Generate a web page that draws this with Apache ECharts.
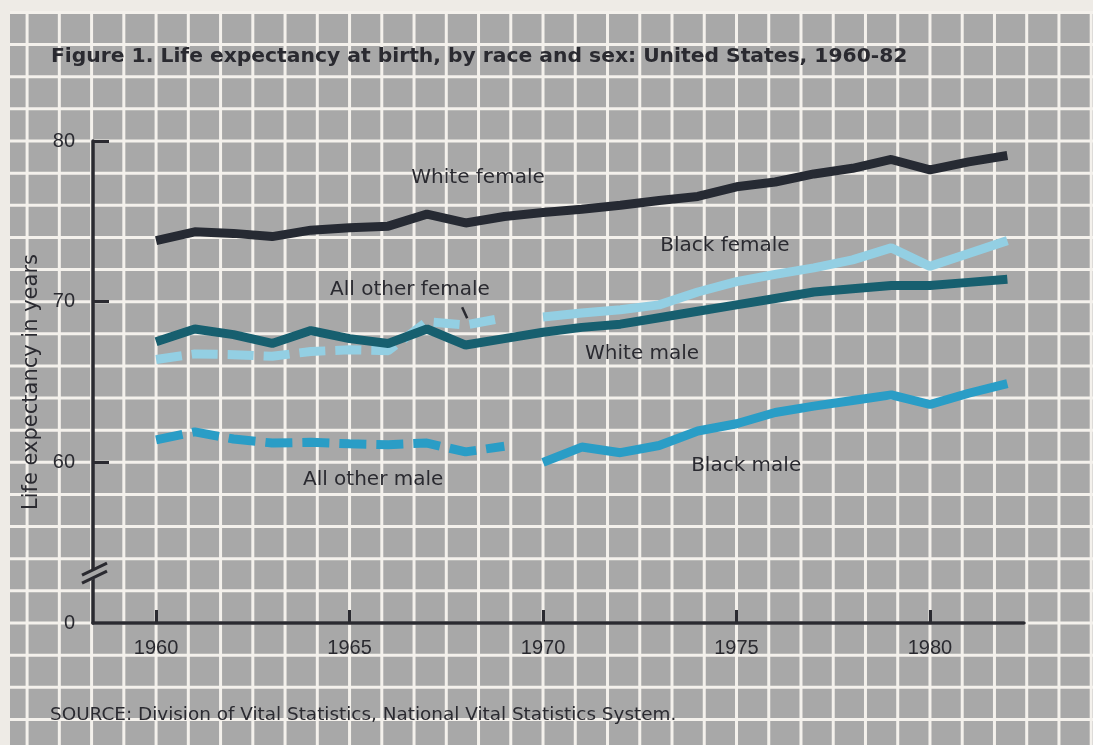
<!DOCTYPE html>
<html>
<head>
<meta charset="utf-8">
<title>Life expectancy at birth, by race and sex</title>
<script src="https://cdn.jsdelivr.net/npm/echarts@6/dist/echarts.min.js"></script>
<style>
  html, body { margin: 0; padding: 0; background: #eeebe6; }
  #main { width: 1093px; height: 745px; }
</style>
</head>
<body>
<div id="main"></div>
<script>
// years
const yearsEarly = [1960, 1961, 1962, 1963, 1964, 1965, 1966, 1967, 1968, 1969];
const yearsLate = [1970, 1971, 1972, 1973, 1974, 1975, 1976, 1977, 1978, 1979, 1980, 1981, 1982];
const yearsAll = yearsEarly.concat(yearsLate);

// life expectancy in years
const whiteFemale = [73.8, 74.35, 74.25, 74.05, 74.45, 74.6, 74.7, 75.45, 74.9, 75.3,
  75.55, 75.75, 76.0, 76.3, 76.55, 77.15, 77.45, 77.95, 78.3, 78.85, 78.2, 78.7, 79.1];
const whiteMale = [67.5, 68.3, 67.95, 67.4, 68.2, 67.7, 67.4, 68.3, 67.3, 67.7,
  68.1, 68.4, 68.6, 69.0, 69.4, 69.8, 70.2, 70.6, 70.8, 71.0, 71.0, 71.2, 71.4];
const allOtherFemale = [66.4, 66.75, 66.7, 66.6, 66.9, 67.0, 66.95, 68.75, 68.55, 69.0];
const blackFemale = [69.05, 69.3, 69.5, 69.8, 70.6, 71.25, 71.7, 72.1, 72.6, 73.35, 72.2, 73.0, 73.8];
const allOtherMale = [61.4, 61.9, 61.45, 61.2, 61.25, 61.15, 61.1, 61.2, 60.65, 61.0];
const blackMale = [60.0, 60.95, 60.6, 61.05, 61.95, 62.4, 63.1, 63.5, 63.85, 64.2, 63.6, 64.3, 64.9];

// axis ticks and labels
const xTickYears = [1960, 1965, 1970, 1975, 1980];
const yTicks = [60, 70, 80];
const yLabels = [50, 60, 70, 80];

// line labels placed in data space (year, years of life)
const labelAnchors = [
  { text: 'White female', at: [1968.32, 77.74] },
  { text: 'Black female', at: [1974.7, 73.45] },
  { text: 'All other female', at: [1966.56, 70.72] },
  { text: 'White male', at: [1972.56, 66.74] },
  { text: 'All other male', at: [1965.61, 58.9] },
  { text: 'Black male', at: [1975.25, 59.77] }
];

const FONT = '"Liberation Sans", Arial, Helvetica, sans-serif';
const WIDE = '"DejaVu Sans", "Liberation Sans", Arial, sans-serif';
const INK = '#2a2a30';
const PAPER = '#eeebe6';
const SCREEN = '#a8a8a8';
const GRIDLINE = '#f4f1ec';
const X_MIN = 1958.37, X_MAX = 1982.43;
const BREAK_AT = 53.1;

function pairs(xs, ys) {
  return xs.map((x, i) => [x, ys[i]]);
}

function lineSeries(name, data, color, dash) {
  return {
    name: name,
    type: 'line',
    data: data,
    symbol: 'none',
    z: 4,
    lineStyle: { color: color, width: 9, type: dash || 'solid', cap: 'butt' }
  };
}

const chart = echarts.init(document.getElementById('main'));

chart.setOption({
  backgroundColor: PAPER,
  animation: false,
  title: [
    {
      text: 'Figure 1. Life expectancy at birth, by race and sex: United States, 1960-82',
      left: 46, top: 42,
      textStyle: { fontFamily: WIDE, fontSize: 20.3, fontWeight: 'bold', color: INK }
    },
    {
      text: 'SOURCE: Division of Vital Statistics, National Vital Statistics System.',
      left: 45, top: 701,
      textStyle: { fontFamily: WIDE, fontSize: 18.4, fontWeight: 'normal', color: INK }
    }
  ],
  grid: { left: 93, right: 69, top: 141, bottom: 122, outerBoundsMode: 'none' },
  xAxis: {
    type: 'value', min: X_MIN, max: X_MAX, z: 3,
    axisLine: { onZero: false, lineStyle: { color: INK, width: 3.5 } },
    axisTick: { inside: true, length: 13, customValues: xTickYears, lineStyle: { color: INK, width: 3 } },
    axisLabel: {
      customValues: xTickYears, color: INK, fontFamily: FONT, fontSize: 20, margin: 15,
      formatter: v => String(v)
    },
    splitLine: { show: false }
  },
  yAxis: {
    type: 'value', min: 50, max: 80, z: 3,
    name: 'Life expectancy in years',
    nameLocation: 'middle', nameGap: 50, nameRotate: 90,
    nameTextStyle: { color: INK, fontFamily: WIDE, fontSize: 21 },
    axisLine: { show: true, onZero: false, lineStyle: { color: INK, width: 3.5 } },
    axisTick: { inside: true, length: 16, customValues: yTicks, lineStyle: { color: INK, width: 3 } },
    axisLabel: {
      customValues: yLabels, color: INK, fontFamily: FONT, fontSize: 20, margin: 18,
      formatter: v => (v === 50 ? '0' : String(v))
    },
    splitLine: { show: false }
  },
  series: [
    lineSeries('All other female', pairs(yearsEarly, allOtherFemale), '#93cfe3', [26, 10]),
    lineSeries('Black female', pairs(yearsLate, blackFemale), '#93cfe3'),
    lineSeries('All other male', pairs(yearsEarly, allOtherMale), '#2a9dc6', [27, 10]),
    lineSeries('Black male', pairs(yearsLate, blackMale), '#2a9dc6'),
    lineSeries('White male', pairs(yearsAll, whiteMale), '#175f6f'),
    lineSeries('White female', pairs(yearsAll, whiteFemale), '#262a33')
  ]
});

// background screen: white rules every 5/6 year and every 2 years, aligned to the axes
const W = chart.getWidth(), H = chart.getHeight();
const toPx = p => chart.convertToPixel({ gridIndex: 0 }, p);
const o = toPx([1960, 80]);
const q = toPx([1965, 70]);
const cw = (q[0] - o[0]) / 6;
const ch = (q[1] - o[1]) / 5;

const graphics = [];
graphics.push({
  type: 'rect', z: 0, z2: 0, silent: true,
  shape: { x: 10, y: 12, width: W, height: H },
  style: { fill: SCREEN }
});
for (let x = o[0] - Math.floor(o[0] / cw) * cw; x < W; x += cw) {
  graphics.push({
    type: 'line', z: 0, z2: 1, silent: true,
    shape: { x1: x, y1: 12, x2: x, y2: H },
    style: { stroke: GRIDLINE, lineWidth: 3 }
  });
}
for (let y = o[1] - Math.floor(o[1] / ch) * ch; y < H; y += ch) {
  graphics.push({
    type: 'line', z: 0, z2: 1, silent: true,
    shape: { x1: 10, y1: y, x2: W, y2: y },
    style: { stroke: GRIDLINE, lineWidth: 3 }
  });
}

// axis break on the y axis
const b = toPx([X_MIN, BREAK_AT]);
graphics.push({
  type: 'polygon', z: 5, silent: true,
  shape: { points: [[b[0] - 4, b[1] - 2], [b[0] + 4, b[1] - 6], [b[0] + 4, b[1] + 4], [b[0] - 4, b[1] + 8]] },
  style: { fill: SCREEN }
});
[-4, 4].forEach(d => {
  graphics.push({
    type: 'line', z: 5, silent: true,
    shape: { x1: b[0] - 11, y1: b[1] + d + 6, x2: b[0] + 14, y2: b[1] + d - 6 },
    style: { stroke: INK, lineWidth: 3 }
  });
});

// line labels
labelAnchors.forEach(a => {
  const p = toPx(a.at);
  graphics.push({
    type: 'text', z: 5, silent: true, x: p[0], y: p[1],
    style: { text: a.text, fill: INK, font: '20px ' + WIDE, align: 'center', verticalAlign: 'middle' }
  });
});

// leader from "All other female" to its dashed line
const l1 = toPx([1967.91, 69.65]);
const l2 = toPx([1968.04, 68.97]);
graphics.push({
  type: 'line', z: 5, silent: true,
  shape: { x1: l1[0], y1: l1[1], x2: l2[0], y2: l2[1] },
  style: { stroke: INK, lineWidth: 2.5 }
});

chart.setOption({ graphic: graphics });
</script>
</body>
</html>
